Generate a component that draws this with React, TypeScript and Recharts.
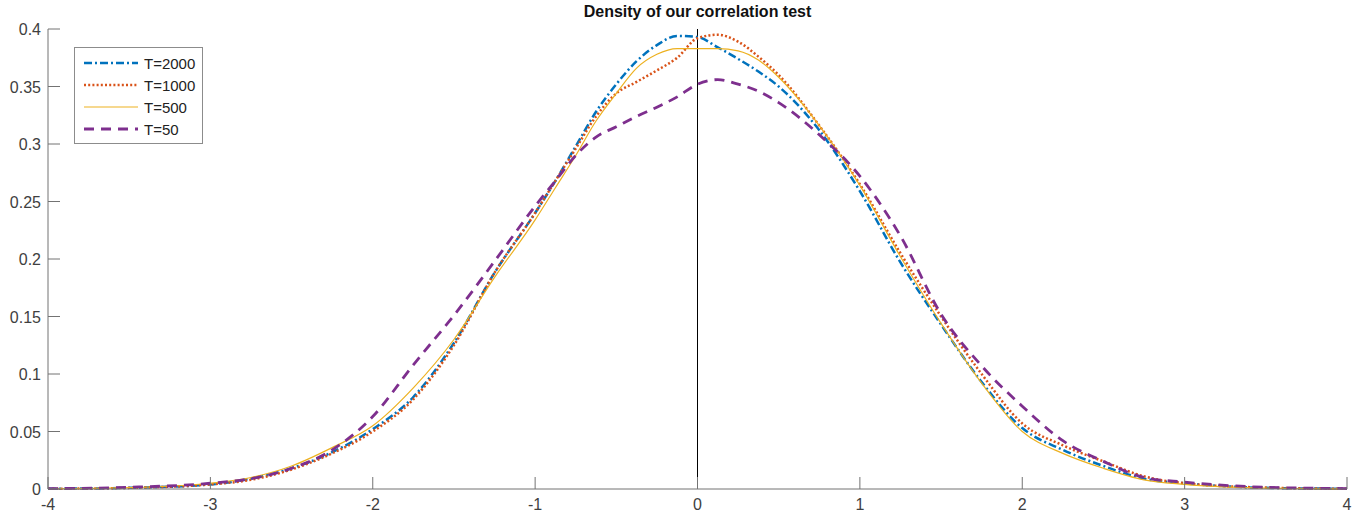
import React from "react"
import { LineChart, Line, XAxis, YAxis, ReferenceLine, Legend } from "recharts"

// x grid shared by all density curves
const xValues = [-4, -3.5, -3, -2.75, -2.5, -2.25, -2, -1.75, -1.5, -1.25, -1, -0.875, -0.75, -0.625, -0.5, -0.375, -0.25, -0.125, 0, 0.125, 0.25, 0.375, 0.5, 0.75, 1, 1.25, 1.5, 1.75, 2, 2.25, 2.5, 2.75, 3, 3.5, 4]

const t2000 = [0.0002, 0.001, 0.004, 0.009, 0.018, 0.032, 0.052, 0.08, 0.127, 0.188, 0.24, 0.268, 0.298, 0.328, 0.352, 0.372, 0.386, 0.394, 0.393, 0.384, 0.374, 0.363, 0.35, 0.312, 0.259, 0.197, 0.143, 0.093, 0.053, 0.034, 0.02, 0.009, 0.005, 0.001, 0.0002]
const t1000 = [0.0002, 0.001, 0.004, 0.008, 0.017, 0.031, 0.05, 0.078, 0.125, 0.188, 0.24, 0.268, 0.296, 0.324, 0.344, 0.354, 0.364, 0.375, 0.392, 0.395, 0.389, 0.376, 0.36, 0.316, 0.265, 0.205, 0.15, 0.1, 0.057, 0.038, 0.024, 0.011, 0.005, 0.0012, 0.0002]
const t500 = [0.0002, 0.0012, 0.005, 0.01, 0.02, 0.036, 0.055, 0.088, 0.13, 0.184, 0.234, 0.262, 0.29, 0.32, 0.344, 0.366, 0.378, 0.383, 0.383, 0.383, 0.381, 0.373, 0.358, 0.316, 0.264, 0.202, 0.144, 0.092, 0.05, 0.031, 0.018, 0.008, 0.004, 0.0008, 0.0001]
const t50 = [0.0003, 0.0015, 0.005, 0.009, 0.018, 0.034, 0.063, 0.108, 0.151, 0.198, 0.246, 0.268, 0.29, 0.306, 0.315, 0.324, 0.332, 0.341, 0.352, 0.356, 0.352, 0.346, 0.336, 0.308, 0.272, 0.22, 0.152, 0.107, 0.072, 0.042, 0.024, 0.01, 0.006, 0.0015, 0.0004]

const xTicks = [-4, -3, -2, -1, 0, 1, 2, 3, 4]
const yTicks = [0, 0.05, 0.1, 0.15, 0.2, 0.25, 0.3, 0.35, 0.4]

const series = [
  { key: "t2000", name: "T=2000", color: "#0072BD", width: 2.5, dash: "8 3 2 3" },
  { key: "t1000", name: "T=1000", color: "#D95319", width: 2.5, dash: "2 2.2" },
  { key: "t500", name: "T=500", color: "#EDB120", width: 1.2, dash: undefined },
  { key: "t50", name: "T=50", color: "#7E2F8E", width: 2.8, dash: "10 7" },
]

const data = xValues.map((x, i) => ({ x, t2000: t2000[i], t1000: t1000[i], t500: t500[i], t50: t50[i] }))

const axisColor = "#737373"
const textColor = "#404040"
const font = "'Liberation Sans', Arial, sans-serif"
const TICK = 12

const BottomTick = ({ x, y, payload }: any) => (
  <g>
    <line x1={x} x2={x} y1={y} y2={y - TICK} stroke={axisColor} />
    <text x={x} y={y + 21} textAnchor="middle" fontSize={16} fill={textColor} fontFamily={font}>{payload.value}</text>
  </g>
)
const TopTick = ({ x, y }: any) => <line x1={x} x2={x} y1={y} y2={y + TICK} stroke={axisColor} />
const LeftTick = ({ x, y, payload }: any) => (
  <g>
    <line x1={x} x2={x + TICK} y1={y} y2={y} stroke={axisColor} />
    <text x={x - 7} y={y + 6} textAnchor="end" fontSize={16} fill={textColor} fontFamily={font}>{String(payload.value)}</text>
  </g>
)
const RightTick = ({ x, y }: any) => <line x1={x} x2={x - TICK} y1={y} y2={y} stroke={axisColor} />

function LegendBox() {
  return (
    <div style={{ border: "1px solid #8c8c8c", background: "#fff", width: 127, padding: "4px 0 3px 0", fontFamily: font }}>
      {series.map((s) => (
        <div key={s.key} style={{ display: "flex", alignItems: "center", height: 22 }}>
          <svg width={68} height={22}>
            <line x1={9} x2={63} y1={11} y2={11} stroke={s.color} strokeWidth={s.width} strokeDasharray={s.dash} />
          </svg>
          <span style={{ fontSize: 15, color: "#222", marginLeft: 1 }}>{s.name}</span>
        </div>
      ))}
    </div>
  )
}

export default function App() {
  return (
    <div style={{ position: "absolute", left: 0, top: 0, width: 1357, height: 523, background: "#fff" }}>
      <div style={{ position: "absolute", left: 48, top: 2, width: 1299, textAlign: "center", fontFamily: font, fontWeight: "bold", fontSize: 16, lineHeight: "20px", color: "#111" }}>
        Density of our correlation test
      </div>
      <LineChart width={1357} height={523} data={data} margin={{ top: 29, right: 10, bottom: 0, left: 0 }}>
        <XAxis xAxisId="b" dataKey="x" type="number" domain={[-4, 4]} ticks={xTicks} height={34} tickSize={0} tickMargin={0} tickLine={false} stroke={axisColor} tick={<BottomTick />} />
        <XAxis xAxisId="t" orientation="top" dataKey="x" type="number" domain={[-4, 4]} ticks={xTicks} height={0} tickSize={0} tickMargin={0} tickLine={false} stroke={axisColor} tick={<TopTick />} />
        <YAxis yAxisId="l" type="number" domain={[0, 0.4]} ticks={yTicks} width={48} tickSize={0} tickMargin={0} tickLine={false} stroke={axisColor} tick={<LeftTick />} />
        <YAxis yAxisId="r" orientation="right" type="number" domain={[0, 0.4]} ticks={yTicks} width={0} tickSize={0} tickMargin={0} tickLine={false} stroke={axisColor} tick={<RightTick />} />
        <ReferenceLine xAxisId="b" yAxisId="l" x={0} stroke="#000" strokeWidth={1} />
        {series.map((s) => (
          <Line
            key={s.key}
            xAxisId="b"
            yAxisId="l"
            type="monotone"
            dataKey={s.key}
            name={s.name}
            stroke={s.color}
            strokeWidth={s.width}
            strokeDasharray={s.dash}
            dot={false}
            activeDot={false}
            isAnimationActive={false}
          />
        ))}
        <Legend layout="vertical" align="center" verticalAlign="middle" content={() => <LegendBox />} wrapperStyle={{ left: 74, top: 47, width: 129 }} />
      </LineChart>
    </div>
  )
}
